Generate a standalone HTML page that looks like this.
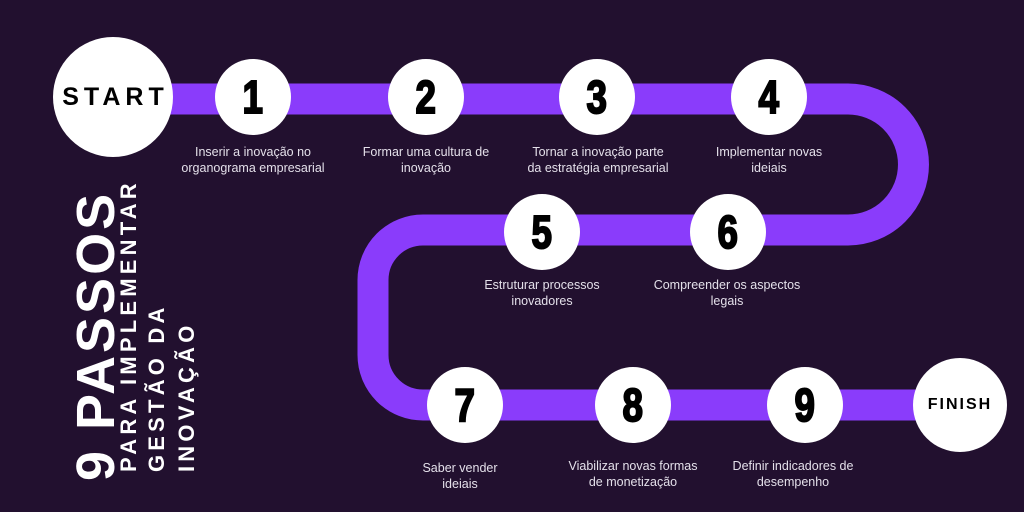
<!DOCTYPE html>
<html><head><meta charset="utf-8"><style>
body{margin:0;width:1024px;height:512px;background:#22102f;overflow:hidden;position:relative;font-family:"Liberation Sans",sans-serif}
.c{position:absolute;background:#fff;border-radius:50%;display:flex;align-items:center;justify-content:center;color:#000}
.n{width:76px;height:76px;font-weight:bold;font-size:46px;}
.n span{display:inline-block;transform:scaleX(0.8);-webkit-text-stroke:2px #000}
.l{position:absolute;width:200px;text-align:center;color:#e4e0ea;font-size:12.5px;line-height:15.5px}
.v{position:absolute;left:0;top:0;transform-origin:0 0;transform:rotate(-90deg);color:#fff;font-weight:bold;white-space:nowrap}
</style></head><body>
<svg width="1024" height="512" style="position:absolute;left:0;top:0">
<path d="M113 99 H848 A65.5 65.5 0 0 1 848 230 H423 A50 50 0 0 0 373 280 V355 A50 50 0 0 0 423 405 H960" fill="none" stroke="#8a3cfb" stroke-width="31"/>
</svg>
<div class="c" style="left:53px;top:37px;width:120px;height:120px;font-weight:bold;font-size:25px;letter-spacing:5px;text-indent:5px">START</div>
<div class="c n" style="left:215px;top:59px"><span>1</span></div>
<div class="c n" style="left:388px;top:59px"><span>2</span></div>
<div class="c n" style="left:559px;top:59px"><span>3</span></div>
<div class="c n" style="left:731px;top:59px"><span>4</span></div>
<div class="c n" style="left:504px;top:194px"><span>5</span></div>
<div class="c n" style="left:690px;top:194px"><span>6</span></div>
<div class="c n" style="left:427px;top:367px"><span>7</span></div>
<div class="c n" style="left:595px;top:367px"><span>8</span></div>
<div class="c n" style="left:767px;top:367px"><span>9</span></div>
<div class="c" style="left:913px;top:358px;width:94px;height:94px;font-weight:bold;font-size:16px;letter-spacing:2px">FINISH</div>
<div class="l" style="left:153px;top:145px">Inserir a inovação no<br>organograma empresarial</div>
<div class="l" style="left:326px;top:145px">Formar uma cultura de<br>inovação</div>
<div class="l" style="left:498px;top:145px">Tornar a inovação parte<br>da estratégia empresarial</div>
<div class="l" style="left:669px;top:145px">Implementar novas<br>ideiais</div>
<div class="l" style="left:442px;top:278px">Estruturar processos<br>inovadores</div>
<div class="l" style="left:627px;top:278px">Compreender os aspectos<br>legais</div>
<div class="l" style="left:360px;top:461px">Saber vender<br>ideiais</div>
<div class="l" style="left:533px;top:459px">Viabilizar novas formas<br>de monetização</div>
<div class="l" style="left:693px;top:459px">Definir indicadores de<br>desempenho</div>
<div class="v" style="left:72px;top:481px;font-size:54px;line-height:48px;letter-spacing:3px">9 PASSOS</div>
<div class="v" style="left:118px;top:472px;font-size:22px;line-height:22px;letter-spacing:4.2px">PARA IMPLEMENTAR</div>
<div class="v" style="left:146px;top:472px;font-size:22px;line-height:22px;letter-spacing:4.2px">GESTÃO DA</div>
<div class="v" style="left:176px;top:472px;font-size:22px;line-height:22px;letter-spacing:4.2px">INOVAÇÃO</div>
</body></html>
